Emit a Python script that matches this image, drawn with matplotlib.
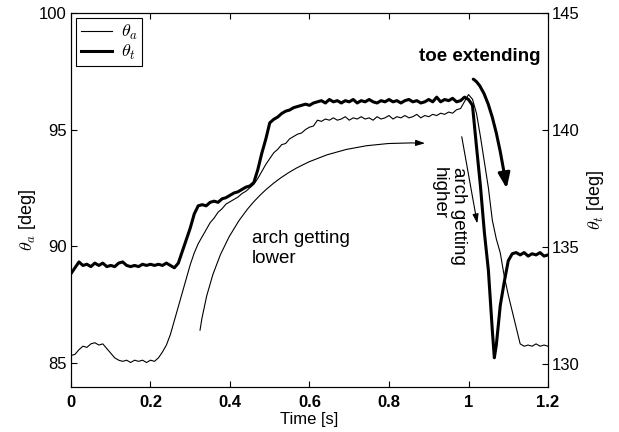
import matplotlib
matplotlib.use("Agg")
import matplotlib.pyplot as plt
import numpy as np

plt.rcParams['font.family'] = ['Liberation Sans', 'DejaVu Sans']
plt.rcParams['mathtext.fontset'] = 'cm'

# sample times [s], 10 ms steps
time = np.round(np.arange(0, 1.205, 0.01), 2)

# arch angle theta_a [deg] (left axis, thin line)
theta_a = [
    85.30, 85.35, 85.55, 85.70, 85.65, 85.80, 85.85, 85.75, 85.80, 85.60,  # 0.00
    85.40, 85.20, 85.10, 85.05, 85.10, 85.00, 85.10, 85.05, 85.10, 85.00,  # 0.10
    85.10, 85.05, 85.20, 85.45, 85.75, 86.20, 86.80, 87.40, 88.00, 88.60,  # 0.20
    89.20, 89.70, 90.10, 90.40, 90.70, 91.00, 91.20, 91.45, 91.60, 91.80,  # 0.30
    91.90, 92.00, 92.10, 92.25, 92.35, 92.50, 92.65, 92.90, 93.20, 93.50,  # 0.40
    93.75, 94.00, 94.15, 94.35, 94.40, 94.60, 94.70, 94.80, 94.85, 95.00,  # 0.50
    95.10, 95.15, 95.40, 95.35, 95.45, 95.40, 95.50, 95.40, 95.45, 95.55,  # 0.60
    95.40, 95.50, 95.45, 95.55, 95.45, 95.50, 95.40, 95.55, 95.45, 95.50,  # 0.70
    95.60, 95.45, 95.55, 95.50, 95.60, 95.50, 95.55, 95.65, 95.50, 95.60,  # 0.80
    95.55, 95.65, 95.60, 95.70, 95.65, 95.75, 95.70, 95.85, 95.90, 96.20,  # 0.90
    96.50, 96.30, 95.70, 94.70, 93.60, 92.50, 91.10, 90.30, 89.70, 88.70,  # 1.00
    87.90, 87.20, 86.50, 85.80, 85.70, 85.75, 85.70, 85.80, 85.70, 85.75,  # 1.10
    85.70,
]

# toe angle theta_t [deg] (right axis, thick line)
theta_t = [
    133.85, 134.10, 134.35, 134.20, 134.25, 134.15, 134.30, 134.20, 134.30, 134.15,  # 0.00
    134.20, 134.15, 134.30, 134.35, 134.20, 134.15, 134.20, 134.15, 134.25, 134.20,  # 0.10
    134.25, 134.20, 134.25, 134.20, 134.30, 134.20, 134.10, 134.30, 134.80, 135.30,  # 0.20
    135.80, 136.40, 136.75, 136.80, 136.75, 136.90, 136.95, 136.90, 137.05, 137.10,  # 0.30
    137.20, 137.30, 137.35, 137.45, 137.55, 137.60, 137.75, 138.30, 139.00, 139.60,  # 0.40
    140.30, 140.45, 140.55, 140.70, 140.80, 140.85, 140.95, 141.00, 141.05, 141.10,  # 0.50
    141.05, 141.15, 141.20, 141.25, 141.15, 141.30, 141.20, 141.25, 141.15, 141.25,  # 0.60
    141.20, 141.30, 141.15, 141.25, 141.20, 141.30, 141.20, 141.15, 141.25, 141.20,  # 0.70
    141.30, 141.20, 141.25, 141.15, 141.25, 141.30, 141.20, 141.25, 141.15, 141.20,  # 0.80
    141.30, 141.20, 141.40, 141.20, 141.30, 141.25, 141.35, 141.20, 141.25, 141.40,  # 0.90
    141.30, 141.05, 139.30, 137.60, 135.60, 134.00, 131.40, 130.80, 132.50, 133.50,  # 1.00
    134.40, 134.70, 134.75, 134.65, 134.75, 134.60, 134.70, 134.65, 134.75, 134.60,  # 1.10
    134.65,
]
# bottom of the toe dip falls between two samples
dip_time = 1.065
dip_value = 130.25

xticks = [0, 0.2, 0.4, 0.6, 0.8, 1.0, 1.2]
xticklabels = ['0', '0.2', '0.4', '0.6', '0.8', '1', '1.2']
yticks_a = [85, 90, 95, 100]
yticks_t = [130, 135, 140, 145]

idx = int(np.searchsorted(time, dip_time))
time_t = np.insert(time, idx, dip_time)
vals_t = np.insert(np.array(theta_t), idx, dip_value)

fig = plt.figure(figsize=(6.19, 4.32), dpi=100)
ax1 = fig.add_axes([0.1147, 0.1042, 0.7706, 0.8657])
ax2 = ax1.twinx()

l1, = ax1.plot(time, theta_a, color='k', lw=0.8)
l2, = ax2.plot(time_t, vals_t, color='k', lw=2.2)

ax1.set_xlim(0, 1.2)
ax1.set_ylim(83.95, 100)
ax2.set_ylim(129, 145)

ax1.set_xticks(xticks)
ax1.set_xticklabels(xticklabels, fontweight='bold')
ax1.set_yticks(yticks_a)
ax2.set_yticks(yticks_t)

ax1.tick_params(axis='both', direction='in', length=4, width=0.8, labelsize=12)
ax1.tick_params(axis='x', top=True, pad=6)
ax1.tick_params(axis='y', pad=3)
ax2.tick_params(axis='y', direction='in', length=4, width=0.8, labelsize=12, pad=3)
for ax in (ax1, ax2):
    for sp in ax.spines.values():
        sp.set_linewidth(0.8)

ax1.set_xlabel('Time [s]', fontsize=12, labelpad=1)
ax1.set_ylabel(r'$\theta_a$ [deg]', fontsize=13, va='center')
ax1.yaxis.set_label_coords(-0.092, 0.447)
ax2.set_ylabel(r'$\theta_t$ [deg]', fontsize=13, rotation=90, va='center')
ax2.yaxis.set_label_coords(1.10, 0.5)

# annotations
ax1.text(0.4546, 90.68, 'arch getting\nlower', fontsize=13.5, ha='left', va='top')
ax1.text(1.18, 98.12, 'toe extending', fontsize=13.5, fontweight='bold',
         ha='right', va='center')
ax1.text(0.951, 93.40, 'arch getting\nhigher', fontsize=13.5, rotation=270,
         ha='center', va='top', multialignment='left')

thin_head = '-|>,head_length=0.55,head_width=0.18'
ax1.annotate('', xy=(0.8906, 94.41), xytext=(0.3245, 86.38),
             arrowprops=dict(arrowstyle=thin_head, color='k', lw=0.8, mutation_scale=10,
                             connectionstyle='arc3,rad=-0.45', shrinkA=0, shrinkB=0))
ax1.annotate('', xy=(1.022, 90.97), xytext=(0.983, 94.69),
             arrowprops=dict(arrowstyle=thin_head, color='k', lw=0.8, mutation_scale=10,
                             shrinkA=0, shrinkB=0))
ax1.annotate('', xy=(1.096, 92.47), xytext=(1.012, 97.16),
             arrowprops=dict(arrowstyle='-|>,head_length=0.9,head_width=0.35', color='k',
                             lw=2.2, mutation_scale=10,
                             connectionstyle='angle3,angleA=-29,angleB=-81',
                             shrinkA=0, shrinkB=0))

leg = ax2.legend([l1, l2], [r'$\theta_a$', r'$\theta_t$'], loc='upper left', fontsize=13,
                 fancybox=False, edgecolor='k', framealpha=1, borderaxespad=0.3,
                 handlelength=1.7, handletextpad=0.5, labelspacing=0.05, borderpad=0.25)
leg.get_frame().set_linewidth(0.8)

fig.savefig('out.png', dpi=100)
plt.close(fig)
